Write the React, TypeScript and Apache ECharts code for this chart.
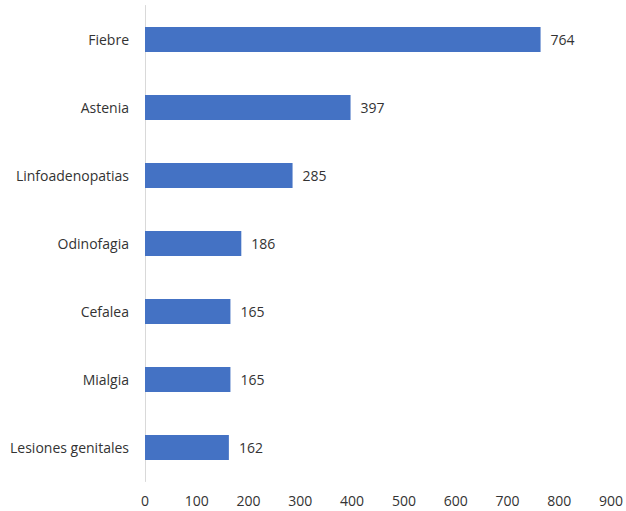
import React, { useEffect, useRef } from "react";
import * as echarts from "echarts";

const categories = ["Fiebre", "Astenia", "Linfoadenopatias", "Odinofagia", "Cefalea", "Mialgia", "Lesiones genitales"];
const values = [764, 397, 285, 186, 165, 165, 162];

export default function App() {
  const ref = useRef<HTMLDivElement>(null);
  useEffect(() => {
    const chart = echarts.init(ref.current!, null, { renderer: "svg" });
    const font = { color: "#333333", fontSize: 14, fontFamily: "Open Sans" };
    chart.setOption({
      animation: false,
      grid: { left: 145, right: 12, top: 5.5, bottom: 29.5, containLabel: false },
      xAxis: {
        type: "value",
        min: 0,
        max: 900,
        interval: 100,
        axisLine: { show: false },
        axisTick: { show: false },
        splitLine: { show: false },
        axisLabel: { ...font, margin: 12 },
      },
      yAxis: {
        type: "category",
        data: categories,
        inverse: true,
        axisLine: { show: true, lineStyle: { color: "#d9d9d9", width: 1 } },
        axisTick: { show: false },
        axisLabel: { ...font, margin: 16 },
      },
      series: [
        {
          type: "bar",
          data: values,
          barWidth: 25,
          itemStyle: { color: "#4472C4" },
          label: { show: true, position: "right", distance: 10, ...font },
        },
      ],
    });
    return () => chart.dispose();
  }, []);
  return <div ref={ref} style={{ width: 626, height: 511, position: "absolute", left: 0, top: 0 }} />;
}
